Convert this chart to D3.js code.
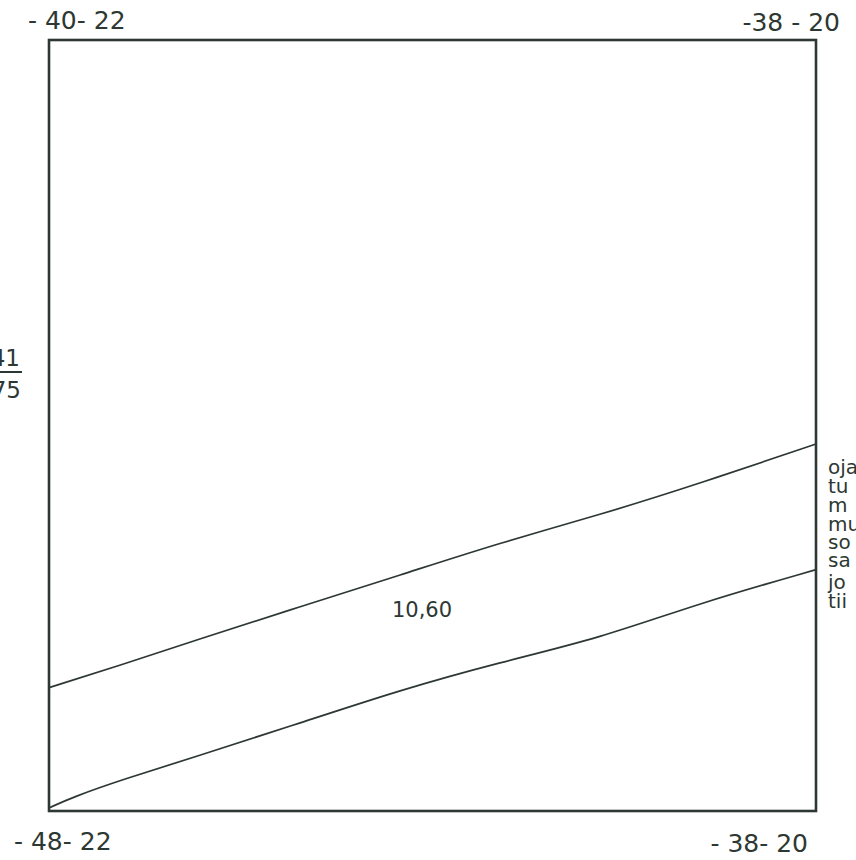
<!DOCTYPE html>
<html>
<head>
<meta charset="utf-8">
<script src="https://cdn.jsdelivr.net/npm/d3@7"></script>
<style>
  html, body { margin: 0; padding: 0; background: #fff; overflow: hidden; }
  text { font-family: "DejaVu Sans", sans-serif; fill: #2e3833; }
</style>
</head>
<body>
<div id="container"></div>
<script>
/* CONSTANTS AND GLOBALS */
const width = 856,
  height = 860,
  margin = { top: 40, bottom: 49, left: 49, right: 40 };

// DATA (0-100 in both directions)
const upperX = [0, 9.3, 19.3, 32.7, 45.8, 58.8, 71.8, 84.9, 100];
const upperY = [16.0, 18.9, 22.2, 26.5, 30.6, 34.8, 38.4, 42.5, 47.6];
const lowerX = [0, 3.1, 9.3, 19.3, 32.7, 45.8, 58.8, 71.8, 84.9, 100];
const lowerY = [0.4, 1.8, 4.0, 7.1, 11.4, 15.7, 19.3, 22.4, 27.0, 31.3];
const cornerLabels = ["- 40- 22", "-38 - 20", "- 48- 22", "- 38- 20"];
const fraction = ["41", "75"];
const bandLabel = "10,60";
const sideWords = ["oja", "tu", "m", "mu", "so", "sa", "jo", "tii"];

const ink = "#2e3833";

const svg = d3.select("#container")
  .append("svg")
  .attr("width", width)
  .attr("height", height);

// SCALES
const x = d3.scaleLinear().domain([0, 100]).range([margin.left, width - margin.right]);
const y = d3.scaleLinear().domain([0, 100]).range([height - margin.bottom, margin.top]);

// FRAME
svg.append("rect")
  .attr("x", x(0))
  .attr("y", y(100))
  .attr("width", x(100) - x(0))
  .attr("height", y(0) - y(100))
  .attr("fill", "none")
  .attr("stroke", ink)
  .attr("stroke-width", 2.6);

// BAND LINES
const lineGen = d3.line()
  .x(d => x(d[0]))
  .y(d => y(d[1]))
  .curve(d3.curveBasis);

const lines = [
  d3.zip(upperX, upperY),
  d3.zip(lowerX, lowerY)
];

svg.selectAll("path.band")
  .data(lines)
  .join("path")
  .attr("class", "band")
  .attr("d", d => lineGen(d))
  .attr("fill", "none")
  .attr("stroke", ink)
  .attr("stroke-width", 1.7);

// CORNER LABELS
const corners = [
  { t: cornerLabels[0], x: 28, y: 29, anchor: "start" },
  { t: cornerLabels[1], x: 840, y: 31, anchor: "end" },
  { t: cornerLabels[2], x: 14, y: 850, anchor: "start" },
  { t: cornerLabels[3], x: 808, y: 852, anchor: "end" }
];

svg.selectAll("text.corner")
  .data(corners)
  .join("text")
  .attr("class", "corner")
  .attr("x", d => d.x)
  .attr("y", d => d.y)
  .attr("text-anchor", d => d.anchor)
  .style("font-size", "25px")
  .text(d => d.t);

// LEFT FRACTION (cut by page edge as in the scan)
svg.append("text")
  .attr("x", 20)
  .attr("y", 366)
  .attr("text-anchor", "end")
  .style("font-size", "23px")
  .text(fraction[0]);

svg.append("line")
  .attr("x1", 0)
  .attr("x2", 22)
  .attr("y1", 372)
  .attr("y2", 372)
  .attr("stroke", ink)
  .attr("stroke-width", 2);

svg.append("text")
  .attr("x", 21)
  .attr("y", 398)
  .attr("text-anchor", "end")
  .style("font-size", "23px")
  .text(fraction[1]);

// BAND VALUE
svg.append("text")
  .attr("x", 422)
  .attr("y", 617)
  .attr("text-anchor", "middle")
  .style("font-size", "21px")
  .text(bandLabel);

// SIDE TEXT (cut by page edge)
const sideBase = [474, 493, 512, 531, 549, 567, 589, 608];
svg.selectAll("text.side")
  .data(sideWords)
  .join("text")
  .attr("class", "side")
  .attr("x", 828)
  .attr("y", (d, i) => sideBase[i])
  .style("font-size", "20px")
  .text(d => d);
</script>
</body>
</html>
